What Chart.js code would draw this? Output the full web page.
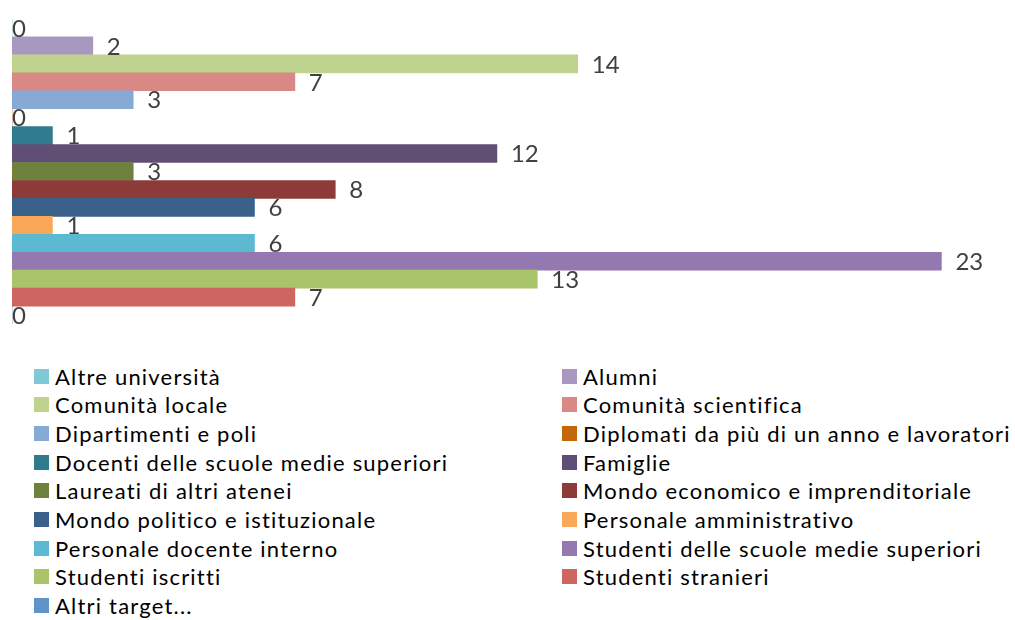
<!DOCTYPE html>
<html>
<head>
<meta charset="utf-8">
<script src="https://cdn.jsdelivr.net/npm/chart.js@4/dist/chart.umd.min.js"></script>
<style>
    html, body { margin: 0; padding: 0; background: #fff; }
    body { width: 1015px; height: 620px; position: relative; overflow: hidden; font-family: Lato, 'Open Sans', sans-serif; }
    #chartBox { position: absolute; left: 0; top: 0; width: 1015px; height: 340px; }
    #legend { position: absolute; left: 34px; top: 362px; display: grid; grid-template-columns: 528px 452px; grid-auto-rows: 28.67px; }
    .item { display: flex; align-items: center; font-size: 22px; letter-spacing: 1.2px; color: #000; white-space: nowrap; }
    .swatch { width: 15px; height: 15px; margin-right: 6px; flex: none; }
</style>
</head>
<body>
<div id="chartBox"><canvas id="targetChart"></canvas></div>
<div id="legend"></div>
<script>
// Target groups (top to bottom, same order as legend)
const targets = [
    'Altre università', 'Alumni', 'Comunità locale', 'Comunità scientifica',
    'Dipartimenti e poli', 'Diplomati da più di un anno e lavoratori',
    'Docenti delle scuole medie superiori', 'Famiglie', 'Laureati di altri atenei',
    'Mondo economico e imprenditoriale', 'Mondo politico e istituzionale',
    'Personale amministrativo', 'Personale docente interno',
    'Studenti delle scuole medie superiori', 'Studenti iscritti', 'Studenti stranieri',
    'Altri target...'
];
const counts = [0, 2, 14, 7, 3, 0, 1, 12, 3, 8, 6, 1, 6, 23, 13, 7, 0];
const colors = [
    '#7ec8d8', '#a898c0', '#bfd38f', '#d98886', '#86aad5', '#c2680a',
    '#307c8e', '#604e74', '#6e813d', '#8c3b38', '#3a6189', '#f9a85a',
    '#5bb9d1', '#9479b1', '#aac46c', '#cd6660', '#5f93cb'
];

// value labels to the right of each bar
const valueLabels = {
    id: 'valueLabels',
    afterDatasetsDraw: function(chart) {
        const ctx = chart.ctx;
        const meta = chart.getDatasetMeta(0);
        ctx.save();
        ctx.font = '24px Lato, sans-serif';
        ctx.fillStyle = '#404040';
        ctx.textAlign = 'left';
        ctx.textBaseline = 'middle';
        meta.data.forEach(function(bar, i) {
            const v = counts[i];
            ctx.fillText(String(v), bar.x + (v > 0 ? 14 : 0), bar.y + 1);
        });
        ctx.restore();
    }
};

document.addEventListener('DOMContentLoaded', function() {
    const ctx = document.getElementById('targetChart').getContext('2d');
    new Chart(ctx, {
        type: 'bar',
        data: {
            labels: targets,
            datasets: [{
                data: counts,
                backgroundColor: colors,
                borderWidth: 0,
                barPercentage: 1,
                categoryPercentage: 1
            }]
        },
        options: {
            indexAxis: 'y',
            responsive: true,
            maintainAspectRatio: false,
            animation: false,
            layout: { padding: { left: 12, right: 13, top: 19, bottom: 16 } },
            scales: {
                x: { display: false, min: 0, max: 24.5 },
                y: { display: false }
            },
            plugins: {
                legend: { display: false },
                tooltip: { enabled: false }
            }
        },
        plugins: [valueLabels]
    });

    // legend in two columns
    const legend = document.getElementById('legend');
    targets.forEach(function(name, i) {
        const item = document.createElement('div');
        item.className = 'item';
        const sw = document.createElement('span');
        sw.className = 'swatch';
        sw.style.background = colors[i];
        item.appendChild(sw);
        item.appendChild(document.createTextNode(name));
        legend.appendChild(item);
    });
});
</script>
</body>
</html>
